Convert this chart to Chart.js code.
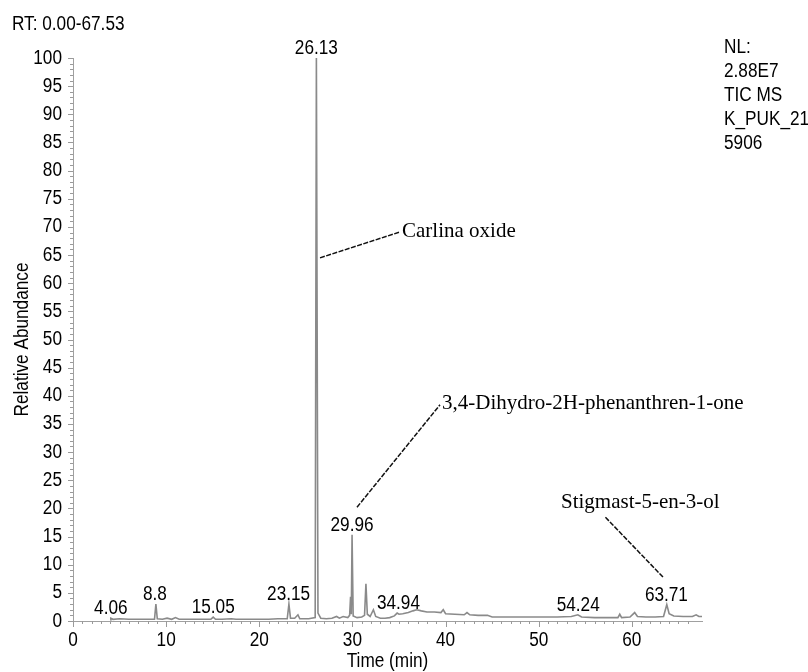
<!DOCTYPE html>
<html>
<head>
<meta charset="utf-8">
<script src="https://cdn.jsdelivr.net/npm/chart.js@4.4.1/dist/chart.umd.min.js"></script>
<style>
  body { margin: 0; background: #fff; }
  #wrap { width: 808px; height: 672px; }
</style>
</head>
<body>
<div id="wrap"><canvas id="chart" width="808" height="672"></canvas></div>
<script>
// retention time (min) / relative abundance (%)
const rtMin = [
  4.0, 4.06, 4.3, 5.0, 6.0, 7.0, 8.0, 8.75, 8.9, 9.05,
  9.6, 10.1, 10.6, 11.0, 11.4, 12.0, 13.0, 14.0, 14.8, 15.05,
  15.3, 16.0, 17.0, 17.5, 18.0, 19.0, 20.0, 21.0, 22.0, 23.0,
  23.18, 23.35, 23.8, 24.15, 24.35, 24.6, 25.3, 26.0, 26.13, 26.3,
  26.6, 27.2, 27.8, 28.3, 28.6, 29.0, 29.5, 29.7, 29.8, 29.88,
  29.96, 30.08, 30.5, 31.0, 31.3, 31.45, 31.6, 31.9, 32.25, 32.5,
  33.0, 33.5, 34.0, 34.5, 34.8, 35.0, 35.4, 36.0, 36.5, 36.9,
  37.4, 38.0, 38.8, 39.5, 39.75, 40.0, 41.0, 42.0, 42.3, 42.6,
  43.5, 44.5, 45.0, 46.0, 48.0, 50.0, 52.0, 53.5, 54.2, 54.6,
  56.0, 57.5, 58.5, 58.7, 58.9, 59.8, 60.3, 60.6, 61.5, 62.5,
  63.4, 63.75, 64.0, 64.5, 65.5, 66.5, 66.9, 67.2, 67.53
];
const abundance = [
  0.2, 0.5, 0.3, 0.4, 0.3, 0.3, 0.3, 0.3, 3.0, 0.4,
  0.3, 0.5, 0.3, 0.6, 0.3, 0.3, 0.3, 0.3, 0.3, 0.7,
  0.3, 0.3, 0.4, 0.3, 0.3, 0.3, 0.3, 0.3, 0.4, 0.4,
  3.0, 0.5, 0.5, 1.1, 0.4, 0.4, 0.4, 0.6, 100, 1.4,
  0.5, 0.4, 0.5, 0.8, 0.5, 0.8, 0.6, 1.0, 4.3, 1.2,
  15.3, 0.9, 0.6, 0.7, 1.0, 6.6, 1.2, 0.8, 2.0, 0.8,
  0.5, 0.5, 0.6, 0.9, 1.4, 1.2, 1.3, 1.5, 1.8, 2.0,
  1.8, 1.6, 1.6, 1.5, 2.0, 1.3, 1.2, 1.1, 1.5, 1.1,
  1.0, 1.0, 0.7, 0.7, 0.7, 0.7, 0.7, 0.8, 1.1, 0.7,
  0.6, 0.6, 0.6, 1.2, 0.6, 0.7, 1.5, 0.8, 0.7, 0.7,
  0.8, 2.9, 1.3, 0.9, 0.8, 0.8, 1.1, 0.8, 0.8
];

// labelled peaks
const peakRt = [4.06, 8.8, 15.05, 23.15, 26.13, 29.96, 34.94, 54.24, 63.71];

// compound names
const compounds = ['Carlina oxide', '3,4-Dihydro-2H-phenanthren-1-one', 'Stigmast-5-en-3-ol'];

const header = 'RT: 0.00-67.53';
const nlInfo = ['NL:', '2.88E7', 'TIC MS', 'K_PUK_21', '5906'];
const xTitle = 'Time (min)';
const yTitle = 'Relative Abundance';

// callout leader lines, in data units (min, %)
const callouts = [
  { from: [26.52, 64.5], to: [35.11, 69.1], text: [35.32, 69.1] },
  { from: [30.49, 20.2], to: [39.40, 38.4], text: [39.62, 38.6] },
  { from: [63.34, 7.8], to: [57.12, 18.5], text: [52.39, 21.1] }
];

// the original uses Arial Narrow, so squeeze Liberation Sans sideways
const sans = "20px 'Liberation Sans', Arial, sans-serif";
const squeeze = 0.86;
const serif = "21px 'Liberation Serif', 'Times New Roman', serif";

function narrowText(ctx, s, x, y, align, rot) {
  ctx.save();
  ctx.translate(x, y);
  if (rot) ctx.rotate(rot);
  ctx.scale(squeeze, 1);
  ctx.textAlign = align;
  ctx.fillText(s, 0, 0);
  ctx.restore();
}

const tickMarks = {
  id: 'tickMarks',
  afterDraw(chart) {
    const { ctx, scales: { x, y } } = chart;
    ctx.save();
    ctx.strokeStyle = '#9a9a9a';
    ctx.lineWidth = 1;
    ctx.beginPath();
    x.ticks.forEach(t => {
      if (!Number.isInteger(t.value)) return;
      const px = Math.round(x.getPixelForValue(t.value)) + 0.5;
      const len = t.value % 10 === 0 ? 6 : 3;
      ctx.moveTo(px, x.top);
      ctx.lineTo(px, x.top + len);
    });
    y.ticks.forEach(t => {
      const py = Math.round(y.getPixelForValue(t.value)) + 0.5;
      const len = t.value % 5 === 0 ? 5 : 3;
      ctx.moveTo(y.right, py);
      ctx.lineTo(y.right - len, py);
    });
    ctx.stroke();

    // tick labels
    ctx.fillStyle = '#000';
    ctx.font = sans;
    ctx.textBaseline = 'middle';
    x.ticks.forEach(t => {
      if (t.value % 10 === 0) narrowText(ctx, String(t.value), x.getPixelForValue(t.value), 640, 'center');
    });
    y.ticks.forEach(t => {
      if (t.value % 5 === 0) narrowText(ctx, String(t.value), y.right - 11, y.getPixelForValue(t.value), 'right');
    });

    // axis titles
    narrowText(ctx, xTitle, (x.left + x.right) / 2, 661, 'center');
    narrowText(ctx, yTitle, 22, (y.top + y.bottom) / 2, 'center', -Math.PI / 2);
    ctx.restore();
  }
};

const labels = {
  id: 'labels',
  afterDraw(chart) {
    const { ctx, scales: { x, y } } = chart;
    ctx.save();
    ctx.fillStyle = '#000';
    ctx.font = sans;

    // peak retention times, sat just above each peak
    ctx.textBaseline = 'alphabetic';
    peakRt.forEach(rt => {
      let top = 0;
      rtMin.forEach((t, i) => {
        if (Math.abs(t - rt) <= 0.3) top = Math.max(top, abundance[i]);
      });
      const py = Math.min(y.getPixelForValue(top) - 4, 614);
      narrowText(ctx, String(rt), x.getPixelForValue(rt), py, 'center');
    });

    // header and the NL block
    narrowText(ctx, header, 12, 30, 'left');
    ctx.textBaseline = 'middle';
    nlInfo.forEach((s, i) => narrowText(ctx, s, 724, 47 + i * 24, 'left'));

    // compound callouts
    ctx.strokeStyle = '#111';
    ctx.lineWidth = 1.5;
    ctx.setLineDash([5, 1.5]);
    callouts.forEach(c => {
      ctx.beginPath();
      ctx.moveTo(x.getPixelForValue(c.from[0]), y.getPixelForValue(c.from[1]));
      ctx.lineTo(x.getPixelForValue(c.to[0]), y.getPixelForValue(c.to[1]));
      ctx.stroke();
    });
    ctx.font = serif;
    ctx.textAlign = 'left';
    ctx.textBaseline = 'middle';
    callouts.forEach((c, i) => {
      ctx.fillText(compounds[i], x.getPixelForValue(c.text[0]), y.getPixelForValue(c.text[1]));
    });
    ctx.restore();
  }
};

const ctx = document.getElementById('chart').getContext('2d');
new Chart(ctx, {
  type: 'line',
  data: {
    datasets: [{
      data: rtMin.map((t, i) => ({ x: t, y: abundance[i] })),
      borderColor: '#8a8a8a',
      borderWidth: 1.6,
      pointRadius: 0,
      tension: 0,
      fill: false
    }]
  },
  options: {
    responsive: false,
    animation: false,
    layout: { padding: { top: 58, right: 106, left: 0, bottom: 0 } },
    plugins: {
      legend: { display: false },
      tooltip: { enabled: false }
    },
    scales: {
      x: {
        type: 'linear',
        min: 0,
        max: 67.53,
        grid: { display: false, drawTicks: false },
        border: { display: true, color: '#a0a0a0' },
        ticks: { stepSize: 1, autoSkip: false, display: false },
        afterFit: s => { s.height = 51; }
      },
      y: {
        min: 0,
        max: 100,
        grid: { display: false, drawTicks: false },
        border: { display: true, color: '#a0a0a0' },
        ticks: { stepSize: 1, autoSkip: false, display: false },
        afterFit: s => { s.width = 73; }
      }
    }
  },
  plugins: [tickMarks, labels]
});
</script>
</body>
</html>
